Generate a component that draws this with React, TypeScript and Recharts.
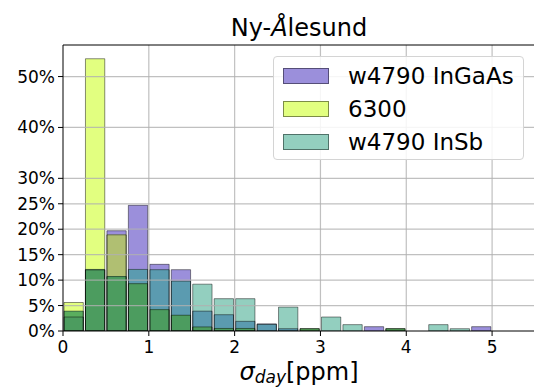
import React from "react";
import { BarChart, Bar, XAxis, YAxis, ReferenceLine, Legend, Label } from "recharts";

// histogram bins (left edges), width 0.25 ppm
const binLefts = [0, 0.25, 0.5, 0.75, 1, 1.25, 1.5, 1.75, 2, 2.25, 2.5, 2.75, 3, 3.25, 3.5, 3.75, 4, 4.25, 4.5, 4.75];
const binWidth = 0.25;

// percentages per bin
const inGaAs = [2.75, 12.0, 19.7, 24.7, 13.1, 12.05, 3.9, 3.2, 1.9, 1.4, 0.45, 0, 0, 0, 0.85, 0, 0, 0, 0, 0.85];
const s6300 = [5.6, 53.5, 18.9, 9.3, 4.2, 3.1, 0.8, 0.5, 0.5, 0, 0, 0.45, 0, 0, 0, 0.45, 0, 0, 0, 0];
const inSb = [3.9, 12.1, 10.7, 12.1, 12.05, 9.8, 9.2, 6.35, 6.35, 1.3, 4.7, 0.45, 2.75, 1.25, 0, 0.45, 0, 1.25, 0.45, 0];

const seriesNames = ["w4790 InGaAs", "6300", "w4790 InSb"];
const xTicks = [0, 1, 2, 3, 4, 5];
const yTicks = [0, 5, 10, 15, 20, 25, 30, 40, 50];

const COL = {
  p: "#9b8fdb",
  y: "#e2ff80",
  t: "#93cfbf",
  py: "#b0bf72",
  pt: "#5b9bb0",
  yt: "#5aae5e",
  pyt: "#4c9c5f",
};
const legendColors = [COL.p, COL.y, COL.t];

const data = binLefts.map((l, i) => {
  const p = inGaAs[i];
  const y = s6300[i];
  const t = inSb[i];
  return {
    x: l + binWidth / 2,
    p,
    y,
    t,
    py: Math.min(p, y),
    pt: Math.min(p, t),
    yt: Math.min(y, t),
    pyt: Math.min(p, y, t),
  };
});

const fillLayers = ["p", "y", "t", "py", "pt", "yt", "pyt"];
const outlineLayers = ["p", "y", "t"];

const W = 540;
const H = 388;
const margin = { top: 44, right: 5, bottom: 27, left: 8 };
const yAxisWidth = 55;
const xDomain: [number, number] = [0, 5.5];
const yDomain: [number, number] = [0, 56.2];
const plotW = W - margin.left - margin.right - yAxisWidth;
const barPx = (plotW * binWidth) / (xDomain[1] - xDomain[0]);

const FONT = "DejaVu Sans, Verdana, sans-serif";

const LegendBox = () => (
  <div
    style={{
      width: 249,
      height: 102,
      border: "1px solid #d4d4d4",
      borderRadius: 4,
      background: "rgba(255,255,255,0.85)",
      fontFamily: FONT,
      fontSize: 23,
      color: "#000",
      position: "relative",
    }}
  >
    {seriesNames.map((n, i) => (
      <div
        key={n}
        style={{ position: "absolute", left: 9, top: 9 + i * 33, height: 20, display: "flex", alignItems: "center", whiteSpace: "nowrap" }}
      >
        <div style={{ width: 46, height: 16, background: legendColors[i], border: "1px solid rgba(0,0,0,0.45)", boxSizing: "border-box" }} />
        <span style={{ marginLeft: 19, lineHeight: "20px" }}>{n}</span>
      </div>
    ))}
  </div>
);

export default function App() {
  return (
    <div style={{ position: "absolute", left: 0, top: 0, width: 534, height: 388, overflow: "hidden", background: "#fff" }}>
      <BarChart width={W} height={H} data={data} margin={margin} barCategoryGap={0} barGap={0}>
        <XAxis
          xAxisId="main"
          dataKey="x"
          type="number"
          domain={xDomain}
          ticks={xTicks}
          allowDataOverflow
          height={30}
          tickSize={5}
          tickMargin={5}
          stroke="#000"
          tick={{ fill: "#000", fontSize: 17, fontFamily: FONT }}
          tickLine={{ stroke: "#000" }}
          axisLine={{ stroke: "#000" }}
        >
          <Label
            content={(props: any) => {
              const vb = props.viewBox || {};
              const cx = vb.x + vb.width / 2;
              return (
                <text x={cx} y={380} textAnchor="middle" fontFamily={FONT} fontSize={24} fill="#000">
                  <tspan fontStyle="italic">σ</tspan>
                  <tspan fontStyle="italic" fontSize={17} dy={3}>day</tspan>
                  <tspan dy={-3}>[ppm]</tspan>
                </text>
              );
            }}
          />
        </XAxis>
        <XAxis
          xAxisId="top"
          orientation="top"
          dataKey="x"
          type="number"
          domain={xDomain}
          height={1}
          tick={false}
          tickLine={false}
          axisLine={{ stroke: "#000" }}
        >
          <Label
            content={(props: any) => {
              const vb = props.viewBox || {};
              const cx = vb.x + vb.width / 2;
              return (
                <text x={cx} y={36} textAnchor="middle" fontFamily={FONT} fontSize={24} fill="#000">
                  Ny-<tspan fontStyle="italic">Å</tspan>lesund
                </text>
              );
            }}
          />
        </XAxis>
        {fillLayers.concat(outlineLayers).map((k, i) => (
          <XAxis
            key={"ax" + i}
            xAxisId={"h" + i}
            dataKey="x"
            type="number"
            domain={xDomain}
            allowDataOverflow
            hide
            height={0}
          />
        ))}
        <YAxis
          yAxisId="left"
          width={yAxisWidth}
          type="number"
          domain={yDomain}
          ticks={yTicks}
          allowDataOverflow
          interval={0}
          tickSize={5}
          tickMargin={3}
          tickFormatter={(v: number) => `${v}%`}
          tick={{ fill: "#000", fontSize: 17, fontFamily: FONT }}
          tickLine={{ stroke: "#000" }}
          axisLine={{ stroke: "#000" }}
        />
        {fillLayers.map((k, i) => (
          <Bar
            key={"f" + k}
            xAxisId={"h" + i}
            yAxisId="left"
            dataKey={k}
            fill={(COL as any)[k]}
            barSize={barPx}
            isAnimationActive={false}
            legendType="none"
          />
        ))}
        {outlineLayers.map((k, j) => (
          <Bar
            key={"o" + k}
            xAxisId={"h" + (fillLayers.length + j)}
            yAxisId="left"
            dataKey={k}
            fill="none"
            stroke="#000"
            strokeOpacity={0.45}
            strokeWidth={1}
            barSize={barPx}
            isAnimationActive={false}
            legendType="none"
          />
        ))}
        {xTicks.filter((v) => v > 0).map((v) => (
          <ReferenceLine key={"gx" + v} xAxisId="main" yAxisId="left" x={v} stroke="#b0b0b0" strokeOpacity={0.8} strokeWidth={1.2} />
        ))}
        {yTicks.filter((v) => v > 0).map((v) => (
          <ReferenceLine key={"gy" + v} xAxisId="main" yAxisId="left" y={v} stroke="#b0b0b0" strokeOpacity={0.8} strokeWidth={1.2} />
        ))}
        <Legend
          layout="vertical"
          align="center"
          verticalAlign="middle"
          content={() => <LegendBox />}
          wrapperStyle={{ left: 273, top: 56, width: 251, height: 104 }}
        />
      </BarChart>
    </div>
  );
}
